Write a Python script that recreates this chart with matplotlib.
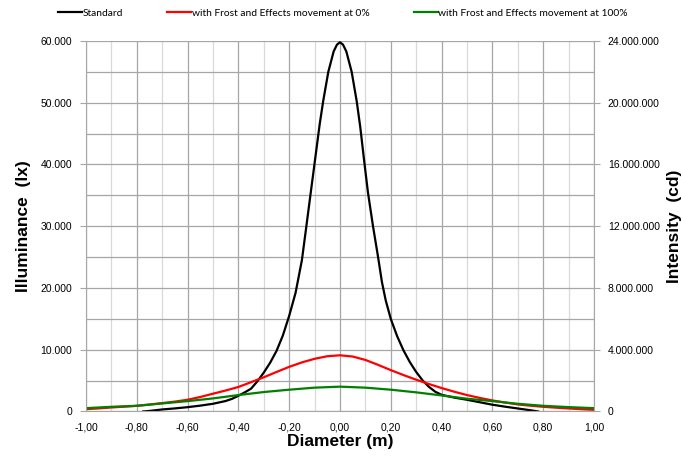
import matplotlib
matplotlib.use("Agg")
import matplotlib.pyplot as plt
from matplotlib.ticker import MultipleLocator, FuncFormatter

# black curve (Standard)
std_x = [-0.775, -0.75, -0.70, -0.65, -0.60, -0.55, -0.50, -0.45, -0.425, -0.40,
         -0.375, -0.35, -0.325, -0.30, -0.275, -0.25, -0.225, -0.20, -0.175, -0.15,
         -0.134, -0.115, -0.10, -0.08, -0.066, -0.046, -0.025, -0.012, 0.0,
         0.012, 0.025, 0.046, 0.066, 0.08, 0.094, 0.11, 0.13, 0.15, 0.165,
         0.18, 0.20, 0.225, 0.25, 0.275, 0.30, 0.326, 0.35, 0.375, 0.40,
         0.45, 0.50, 0.55, 0.60, 0.65, 0.70, 0.75, 0.78]
std_y = [0, 90, 330, 500, 700, 950, 1250, 1700, 2050, 2550,
         3100, 3700, 4900, 6300, 7900, 9800, 12300, 15500, 19200, 24500,
         29500, 35500, 40200, 46500, 50300, 55000, 58300, 59400, 59800,
         59400, 58300, 55000, 50200, 46000, 41000, 35500, 30000, 25000, 21000,
         18000, 15000, 12200, 9900, 8000, 6400, 5000, 4000, 3200, 2700,
         2250, 1900, 1500, 1100, 780, 490, 200, 0]

# red curve (frost 0%)
f0_x = [-1.0, -0.95, -0.9, -0.85, -0.8, -0.75, -0.7, -0.65, -0.6, -0.55, -0.5,
        -0.45, -0.4, -0.35, -0.3, -0.25, -0.2, -0.15, -0.1, -0.05, 0.0,
        0.05, 0.1, 0.15, 0.2, 0.25, 0.3, 0.35, 0.4, 0.45, 0.5,
        0.55, 0.6, 0.65, 0.7, 0.75, 0.8, 0.85, 0.9, 0.95, 1.0]
f0_y = [380, 500, 650, 780, 920, 1130, 1360, 1600, 1900, 2350, 2880,
        3400, 3970, 4750, 5540, 6400, 7230, 7950, 8530, 8950, 9100,
        8900, 8350, 7550, 6700, 5900, 5150, 4450, 3800, 3200, 2660,
        2200, 1790, 1450, 1140, 940, 760, 620, 490, 370, 270]

# green curve (frost 100%)
f100_x = [-1.0, -0.9, -0.8, -0.7, -0.6, -0.5, -0.4, -0.3, -0.2, -0.1, 0.0,
          0.1, 0.2, 0.3, 0.4, 0.5, 0.6, 0.7, 0.8, 0.9, 1.0]
f100_y = [540, 760, 920, 1300, 1680, 2120, 2660, 3150, 3530, 3860, 4020,
          3860, 3530, 3100, 2600, 2070, 1680, 1250, 920, 710, 540]

lab_font = "Liberation Sans"
tick_font = "Liberation Sans"
leg_font = "Lato"

fig = plt.figure(figsize=(6.81, 4.59), dpi=100)
ax = fig.add_axes([0.1263, 0.1035, 0.7459, 0.8072])

l1, = ax.plot(std_x, std_y, color="black", lw=1.6, label="Standard")
l2, = ax.plot(f0_x, f0_y, color="#ff0000", lw=1.6, label="with Frost and Effects movement at 0%")
l3, = ax.plot(f100_x, f100_y, color="#008000", lw=1.6, label="with Frost and Effects movement at 100%")

ax.set_xlim(-1, 1)
ax.set_ylim(0, 60000)
ax.xaxis.set_major_locator(MultipleLocator(0.2))
ax.xaxis.set_minor_locator(MultipleLocator(0.1))
ax.yaxis.set_major_locator(MultipleLocator(10000))
ax.yaxis.set_minor_locator(MultipleLocator(5000))
ax.grid(which="major", axis="x", color="#a6a6a6", lw=0.9)
ax.grid(which="minor", axis="x", color="#d9d9d9", lw=0.9)
ax.grid(which="both", axis="y", color="#a6a6a6", lw=0.9)
ax.set_axisbelow(True)

ax.xaxis.set_major_formatter(FuncFormatter(lambda v, p: ("%.2f" % v).replace(".", ",")))
ax.yaxis.set_major_formatter(FuncFormatter(lambda v, p: "{:,.0f}".format(v).replace(",", ".")))
ax.tick_params(which="both", length=0, labelsize=7.5, pad=8)
ax.tick_params(axis="y", which="major", length=4, color="#a6a6a6", pad=6)
for t in ax.get_xticklabels() + ax.get_yticklabels():
    t.set_fontfamily(tick_font)

for s in ["left", "right", "bottom"]:
    ax.spines[s].set_color("#a6a6a6")
ax.spines["top"].set_visible(False)

ax.set_xlabel("Diameter (m)", fontsize=12.5, fontweight="bold", family=lab_font, labelpad=1)
ax.set_ylabel("Illuminance  (lx)", fontsize=12.5, fontweight="bold", family=lab_font, labelpad=7)

ax2 = ax.twinx()
ax2.set_ylim(0, 24000000)
ax2.yaxis.set_major_locator(MultipleLocator(4000000))
ax2.yaxis.set_major_formatter(FuncFormatter(lambda v, p: "{:,.0f}".format(v).replace(",", ".")))
ax2.tick_params(axis="y", length=4, color="#a6a6a6", labelsize=7.5, pad=6)
for t in ax2.get_yticklabels():
    t.set_fontfamily(tick_font)
for s in ax2.spines.values():
    s.set_visible(False)
ax2.set_ylabel("Intensity  (cd)", fontsize=12.5, fontweight="bold", family=lab_font, labelpad=5)

fig.legend(handles=[l1, l2, l3], loc="upper left", bbox_to_anchor=(0.078, 0.992), ncol=3,
           frameon=False, borderpad=0, handlelength=2.3, handletextpad=0.05,
           columnspacing=4.35, prop={"family": leg_font, "size": 7.4})

fig.savefig("out.png", dpi=100)
